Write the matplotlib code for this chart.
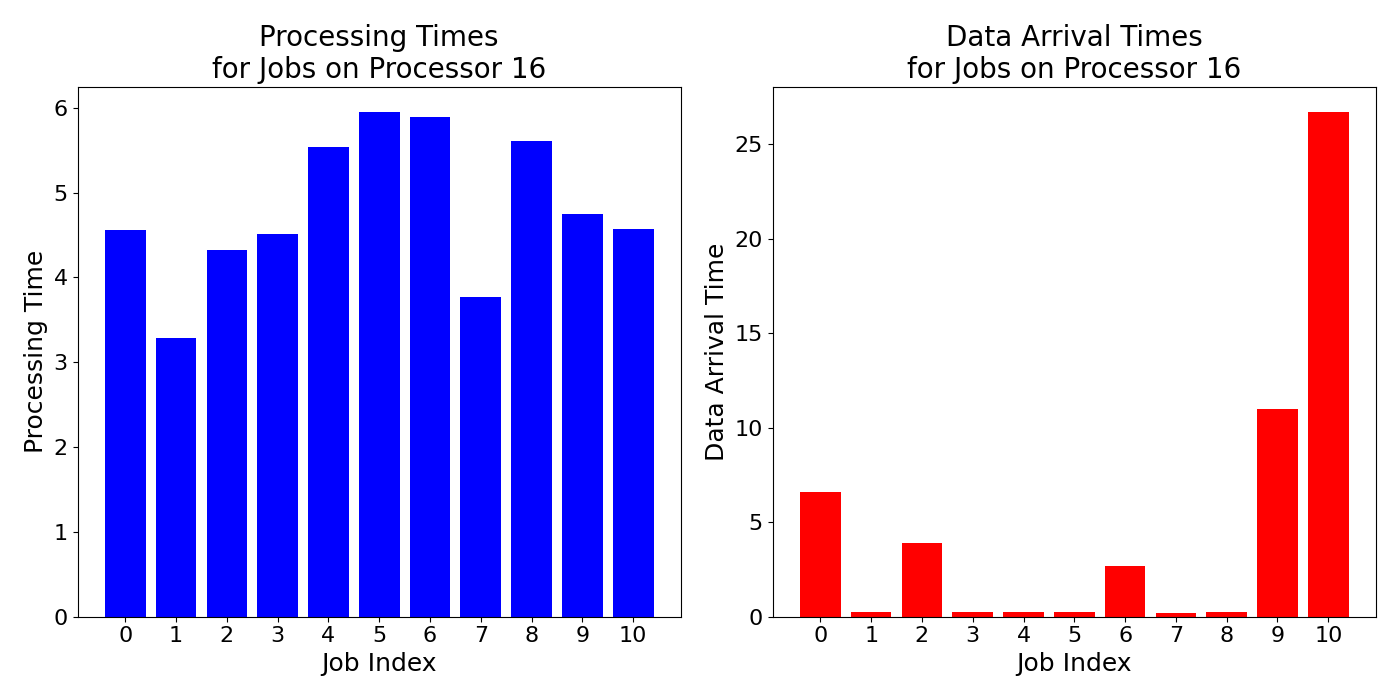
import matplotlib

matplotlib.use("Agg")
import matplotlib.pyplot as plt

jobs = list(range(11))
processing_times = [4.56, 3.29, 4.32, 4.51, 5.54, 5.95, 5.89, 3.77, 5.61, 4.75, 4.57]
arrival_times = [6.6, 0.25, 3.9, 0.25, 0.25, 0.25, 2.7, 0.2, 0.25, 11.0, 26.7]

plt.rcParams["font.size"] = 16
fig, (ax1, ax2) = plt.subplots(1, 2, figsize=(14, 7), dpi=100)

ax1.bar(jobs, processing_times, color="blue")
ax1.set_title("Processing Times\nfor Jobs on Processor 16", fontsize=20)
ax1.set_xlabel("Job Index", fontsize=18)
ax1.set_ylabel("Processing Time", fontsize=18)
ax1.set_xticks(jobs)

ax2.bar(jobs, arrival_times, color="red")
ax2.set_title("Data Arrival Times\nfor Jobs on Processor 16", fontsize=20)
ax2.set_xlabel("Job Index", fontsize=18)
ax2.set_ylabel("Data Arrival Time", fontsize=18)
ax2.set_xticks(jobs)

fig.tight_layout()
fig.savefig("out.png", dpi=100)
plt.close(fig)
